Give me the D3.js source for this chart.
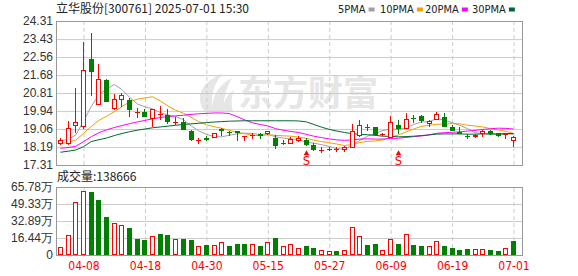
<!DOCTYPE html>
<html>
<head>
<meta charset="utf-8">
<script src="https://cdn.jsdelivr.net/npm/d3@7"></script>
<style>
  body { margin: 0; background: #fff; }
  svg { display: block; }
</style>
</head>
<body>
<svg id="chart" width="578" height="276"></svg>
<script>
const title = '立华股份[300761] 2025-07-01 15:30'
const volumeLabel = '成交量'
const lastVolume = 138666

const dates = ['04-02', '04-03', '04-07', '04-08', '04-09', '04-10', '04-11', '04-14', '04-15', '04-16',
  '04-17', '04-18', '04-21', '04-22', '04-23', '04-24', '04-25', '04-28', '04-29', '04-30',
  '05-06', '05-07', '05-08', '05-09', '05-12', '05-13', '05-14', '05-15', '05-16', '05-19',
  '05-20', '05-21', '05-22', '05-23', '05-26', '05-27', '05-28', '05-29', '05-30', '06-03',
  '06-04', '06-05', '06-06', '06-09', '06-10', '06-11', '06-12', '06-13', '06-16', '06-17',
  '06-18', '06-19', '06-20', '06-23', '06-24', '06-25', '06-26', '06-27', '06-30', '07-01']

const open = [18.32, 18.35, 19.19, 19.15, 22.46, 20.21, 21.43, 20.05, 20.46, 20.47,
  19.82, 19.89, 19.53, 19.76, 19.73, 19.37, 19.41, 18.98, 18.51, 18.61,
  18.61, 19.04, 18.93, 18.95, 18.69, 18.70, 18.82, 18.82, 18.61, 18.38,
  18.33, 18.48, 18.52, 18.28, 18.01, 18.06, 18.04, 18.04, 18.15, 18.70,
  19.15, 19.14, 18.79, 18.61, 19.27, 19.05, 19.59, 19.70, 19.29, 19.48,
  19.66, 19.14, 18.93, 18.70, 18.66, 18.83, 18.96, 18.85, 18.82, 18.49]
const high = [18.61, 19.45, 21.04, 23.30, 23.74, 22.21, 21.51, 20.76, 20.80, 20.55,
  20.07, 20.03, 20.05, 20.16, 20.02, 19.63, 19.58, 19.01, 18.64, 18.73,
  18.88, 19.09, 18.96, 18.96, 18.72, 18.85, 18.88, 18.98, 18.77, 18.52,
  18.66, 18.72, 18.64, 18.36, 18.17, 18.20, 18.18, 18.23, 19.30, 19.50,
  19.29, 19.17, 18.88, 19.69, 19.50, 19.82, 19.75, 19.75, 19.50, 19.89,
  19.85, 19.27, 19.17, 18.80, 18.80, 19.01, 18.99, 18.88, 18.88, 18.72]
const low = [18.28, 18.28, 18.88, 19.05, 20.66, 20.21, 20.36, 19.98, 20.11, 19.63,
  19.60, 19.66, 19.14, 19.52, 19.30, 19.24, 19.01, 18.48, 18.32, 18.49,
  18.61, 18.73, 18.73, 18.49, 18.49, 18.59, 18.56, 18.77, 18.10, 18.27,
  18.33, 18.43, 18.23, 17.99, 17.91, 17.99, 17.96, 17.96, 18.15, 18.68,
  18.98, 18.72, 18.72, 18.61, 18.82, 19.05, 19.37, 19.34, 19.17, 19.48,
  19.17, 18.98, 18.80, 18.56, 18.61, 18.69, 18.77, 18.69, 18.58, 18.20]
const close = [18.51, 19.09, 19.39, 21.91, 21.85, 21.48, 20.36, 20.50, 20.70, 19.97,
  19.87, 19.66, 20.02, 19.80, 19.38, 19.41, 19.01, 18.52, 18.54, 18.53,
  18.85, 18.96, 18.90, 18.88, 18.72, 18.75, 18.73, 18.97, 18.23, 18.40,
  18.56, 18.61, 18.28, 18.02, 18.04, 18.10, 18.07, 18.17, 18.95, 19.24,
  19.13, 18.77, 18.82, 19.39, 19.06, 19.57, 19.55, 19.45, 19.47, 19.79,
  19.17, 18.98, 18.80, 18.68, 18.77, 18.96, 18.80, 18.72, 18.84, 18.66]
// 万手
const volume = [7.7, 19.0, 51.7, 61.7, 61.0, 53.0, 36.6, 30.5, 28.6, 26.0,
  15.4, 14.4, 18.0, 20.2, 19.0, 15.4, 15.4, 14.4, 8.3, 9.6,
  9.6, 12.2, 8.7, 10.6, 10.6, 10.3, 8.7, 12.5, 16.4, 8.7,
  10.3, 6.4, 8.7, 6.7, 4.5, 3.6, 3.9, 4.5, 26.7, 18.0,
  9.6, 10.6, 4.5, 15.1, 10.6, 19.9, 9.6, 8.7, 8.7, 13.2,
  8.7, 6.7, 4.8, 5.8, 5.8, 5.5, 4.8, 3.9, 6.4, 13.87]

const ma5 = [18.49, 18.56, 18.77, 19.44, 20.15, 20.74, 21.00, 21.22, 20.98, 20.60,
  20.28, 20.14, 20.04, 19.86, 19.74, 19.66, 19.52, 19.22, 18.97, 18.80,
  18.69, 18.68, 18.76, 18.82, 18.86, 18.84, 18.80, 18.81, 18.68, 18.62,
  18.58, 18.55, 18.42, 18.37, 18.30, 18.21, 18.10, 18.08, 18.27, 18.51,
  18.71, 18.85, 18.98, 19.07, 19.03, 19.12, 19.28, 19.40, 19.41, 19.57,
  19.49, 19.37, 19.24, 19.08, 18.88, 18.84, 18.80, 18.79, 18.82, 18.80]
const ma10 = [18.33, 18.42, 18.52, 18.85, 19.18, 19.48, 19.68, 19.90, 20.15, 20.38,
  20.51, 20.57, 20.63, 20.42, 20.18, 19.97, 19.83, 19.63, 19.42, 19.27,
  19.17, 19.10, 18.99, 18.90, 18.83, 18.76, 18.73, 18.78, 18.75, 18.73,
  18.71, 18.67, 18.61, 18.52, 18.45, 18.39, 18.33, 18.25, 18.32, 18.40,
  18.46, 18.48, 18.53, 18.67, 18.77, 18.91, 19.06, 19.19, 19.24, 19.29,
  19.30, 19.32, 19.31, 19.24, 19.21, 19.16, 19.08, 19.01, 18.95, 18.84]
const ma20 = [18.12, 18.16, 18.22, 18.45, 18.68, 18.88, 19.02, 19.13, 19.23, 19.32,
  19.40, 19.48, 19.55, 19.62, 19.66, 19.70, 19.73, 19.77, 19.80, 19.82,
  19.84, 19.84, 19.81, 19.66, 19.50, 19.36, 19.28, 19.21, 19.08, 19.00,
  18.94, 18.89, 18.80, 18.71, 18.64, 18.58, 18.53, 18.51, 18.53, 18.57,
  18.58, 18.57, 18.57, 18.60, 18.61, 18.65, 18.69, 18.72, 18.78, 18.85,
  18.88, 18.90, 18.92, 18.96, 18.99, 19.04, 19.07, 19.10, 19.09, 19.06]
const ma30 = [17.93, 17.98, 18.04, 18.20, 18.45, 18.54, 18.62, 18.74, 18.84, 18.93,
  19.00, 19.06, 19.12, 19.16, 19.20, 19.24, 19.28, 19.31, 19.34, 19.37,
  19.40, 19.42, 19.44, 19.45, 19.46, 19.46, 19.46, 19.46, 19.46, 19.46,
  19.46, 19.45, 19.41, 19.28, 19.15, 19.04, 18.96, 18.89, 18.83, 18.80,
  18.78, 18.75, 18.71, 18.70, 18.68, 18.69, 18.71, 18.74, 18.77, 18.81,
  18.82, 18.82, 18.82, 18.81, 18.81, 18.82, 18.82, 18.82, 18.84, 18.84]

const priceTicks = [17.31, 18.19, 19.06, 19.94, 20.81, 21.68, 22.56, 23.43, 24.31]
const volumeTicks = [0, 16.44, 32.89, 49.33, 65.78]
const dateTicks = ['04-08', '04-18', '04-30', '05-15', '05-27', '06-09', '06-19', '07-01']
const signalDates = ['05-22', '06-10']

const maLines = [
  { name: '5PMA', values: ma5, color: '#a0a0a0' },
  { name: '10PMA', values: ma10, color: '#f2a000' },
  { name: '20PMA', values: ma20, color: '#ff00ff' },
  { name: '30PMA', values: ma30, color: '#00692f' },
]

const RED = '#ff0000'
const GREEN = '#008000'
const labelFont = '"Liberation Sans", Arial, sans-serif'
const narrowFont = '"Liberation Sans Narrow", "DejaVu Sans Condensed", sans-serif'
const cjkFont = '"Noto Sans CJK SC", "Noto Sans", sans-serif'

const svg = d3.select('#chart')

const left = 56
const right = 522
const pricePanel = { top: 21, bottom: 165 }
const volPanel = { top: 187, bottom: 255 }

const x = d3.scalePoint().domain(dates).range([60.5, 513.5])
const yPrice = d3.scaleLinear().domain(d3.extent(priceTicks)).range([pricePanel.bottom, pricePanel.top])
const yVol = d3.scaleLinear().domain(d3.extent(volumeTicks)).range([volPanel.bottom, volPanel.top])

const px = d => Math.floor(x(d)) + 0.5

// watermark
const mark = svg.append('g').attr('fill', '#e6e6e6')
mark.append('path').attr('d', 'M204,111 C195,97 201,82 222,74 C212,87 210,99 214,111 Z')
mark.append('path').attr('d', 'M213,111 C211,97 218,85 232,78 C225,90 223,101 224,111 Z')
mark.append('path').attr('d', 'M223,111 C223,102 227,94 234,90 C231,98 231,105 233,111 Z')
mark.append('text')
  .attr('x', 238)
  .attr('y', 106)
  .attr('font-family', cjkFont)
  .attr('font-weight', 'bold')
  .attr('font-size', '35px')
  .text('东方财富')

const styleAxis = (g, color) => {
  g.select('.domain').remove()
  g.selectAll('.tick line').attr('stroke', '#cccccc')
  g.selectAll('.tick text')
    .attr('fill', color)
    .attr('font-family', labelFont)
    .attr('font-size', '12px')
}

// horizontal grid + price labels
svg.append('g')
  .attr('transform', `translate(${left},0)`)
  .call(d3.axisLeft(yPrice).tickValues(priceTicks).tickSize(-(right - left)).tickPadding(3)
    .tickFormat(d3.format('.2f')))
  .call(g => styleAxis(g, '#333333'))

svg.append('g')
  .attr('transform', `translate(${left},0)`)
  .call(d3.axisLeft(yVol).tickValues(volumeTicks).tickSize(-(right - left)).tickPadding(3)
    .tickFormat(d => (d === 0 ? '0' : `${d.toFixed(2)}万`)))
  .call(g => styleAxis(g, '#333333'))

// vertical dashed grid
svg.append('g')
  .attr('transform', `translate(0,${pricePanel.bottom})`)
  .call(d3.axisBottom(x).tickValues(dateTicks).tickSize(-(pricePanel.bottom - pricePanel.top)).tickFormat(''))
  .call(g => styleAxis(g, RED))
  .call(g => g.selectAll('.tick line').attr('stroke-dasharray', '4,3'))

svg.append('g')
  .attr('transform', `translate(0,${volPanel.bottom})`)
  .call(d3.axisBottom(x).tickValues(dateTicks).tickSize(-(volPanel.bottom - volPanel.top)).tickPadding(6))
  .call(g => styleAxis(g, RED))
  .call(g => g.selectAll('.tick line').attr('stroke-dasharray', '4,3'))
  .call(g => g.selectAll('.tick text').attr('font-family', narrowFont).attr('font-size', '12px'))

// panel frames
;[pricePanel, volPanel].forEach(p => {
  svg.append('rect')
    .attr('x', left + 0.5)
    .attr('y', p.top + 0.5)
    .attr('width', right - left)
    .attr('height', p.bottom - p.top)
    .attr('fill', 'none')
    .attr('stroke', '#999999')
})

// moving averages
const line = d3.line().x((d, i) => x(dates[i])).y(d => yPrice(d))
svg.append('g')
  .selectAll('path')
  .data(maLines)
  .enter()
  .append('path')
  .attr('d', d => line(d.values))
  .attr('fill', 'none')
  .attr('stroke', d => d.color)
  .attr('stroke-width', 1)

// candles
const candles = svg.append('g').attr('shape-rendering', 'crispEdges')
dates.forEach((d, i) => {
  const up = close[i] >= open[i]
  const color = up ? RED : GREEN
  const cx = px(d)
  const yTop = Math.round(yPrice(Math.max(open[i], close[i])))
  const yBot = Math.round(yPrice(Math.min(open[i], close[i])))

  candles.append('line')
    .attr('x1', cx).attr('x2', cx)
    .attr('y1', Math.round(yPrice(high[i]))).attr('y2', Math.round(yPrice(low[i])))
    .attr('stroke', color)

  if (yBot - yTop < 2) {
    candles.append('line')
      .attr('x1', cx - 2.5).attr('x2', cx + 2.5)
      .attr('y1', yTop + 0.5).attr('y2', yTop + 0.5)
      .attr('stroke', color)
  } else if (up) {
    candles.append('rect')
      .attr('x', cx - 2).attr('width', 4)
      .attr('y', yTop + 0.5).attr('height', yBot - yTop - 1)
      .attr('fill', '#fff')
      .attr('stroke', color)
  } else {
    candles.append('rect')
      .attr('x', cx - 2.5).attr('width', 5)
      .attr('y', yTop).attr('height', yBot - yTop)
      .attr('fill', color)
  }
})

// volume bars: colour by close against previous close
const bars = svg.append('g').attr('shape-rendering', 'crispEdges')
dates.forEach((d, i) => {
  const up = i === 0 ? close[i] >= open[i] : close[i] >= close[i - 1]
  const cx = px(d)
  const yTop = Math.round(yVol(volume[i]))
  if (up) {
    bars.append('rect')
      .attr('x', cx - 2).attr('width', 4)
      .attr('y', yTop + 0.5).attr('height', volPanel.bottom - yTop - 1)
      .attr('fill', '#fff')
      .attr('stroke', RED)
  } else {
    bars.append('rect')
      .attr('x', cx - 2.5).attr('width', 5)
      .attr('y', yTop).attr('height', volPanel.bottom - yTop)
      .attr('fill', GREEN)
  }
})

// S signals
const signals = svg.append('g').attr('fill', RED)
signalDates.forEach(d => {
  signals.append('path')
    .attr('d', d3.symbol(d3.symbolTriangle, 14)())
    .attr('transform', `translate(${px(d)},153.5)`)
  signals.append('text')
    .attr('x', px(d))
    .attr('y', 165)
    .attr('text-anchor', 'middle')
    .attr('font-family', narrowFont)
    .attr('font-size', '13px')
    .text('S')
})

// title
svg.append('text')
  .attr('x', left)
  .attr('y', 13)
  .attr('font-family', cjkFont)
  .attr('font-size', '12px')
  .attr('fill', '#222')
  .text(title)

// legend
const legendX = [338, 380, 425, 472]
maLines.forEach((m, i) => {
  const t = svg.append('text')
    .attr('x', legendX[i])
    .attr('y', 13)
    .attr('font-family', narrowFont)
    .attr('font-size', '11px')
    .attr('fill', '#222')
    .text(m.name)
  const w = t.node().getComputedTextLength()
  svg.append('rect')
    .attr('x', legendX[i] + w + 3)
    .attr('y', 7.5)
    .attr('width', 6)
    .attr('height', 4)
    .attr('fill', m.color)
})

svg.append('text')
  .attr('x', left + 1)
  .attr('y', 181)
  .attr('font-family', cjkFont)
  .attr('font-size', '12px')
  .attr('fill', '#222')
  .text(`${volumeLabel}:${lastVolume}`)
</script>
</body>
</html>
